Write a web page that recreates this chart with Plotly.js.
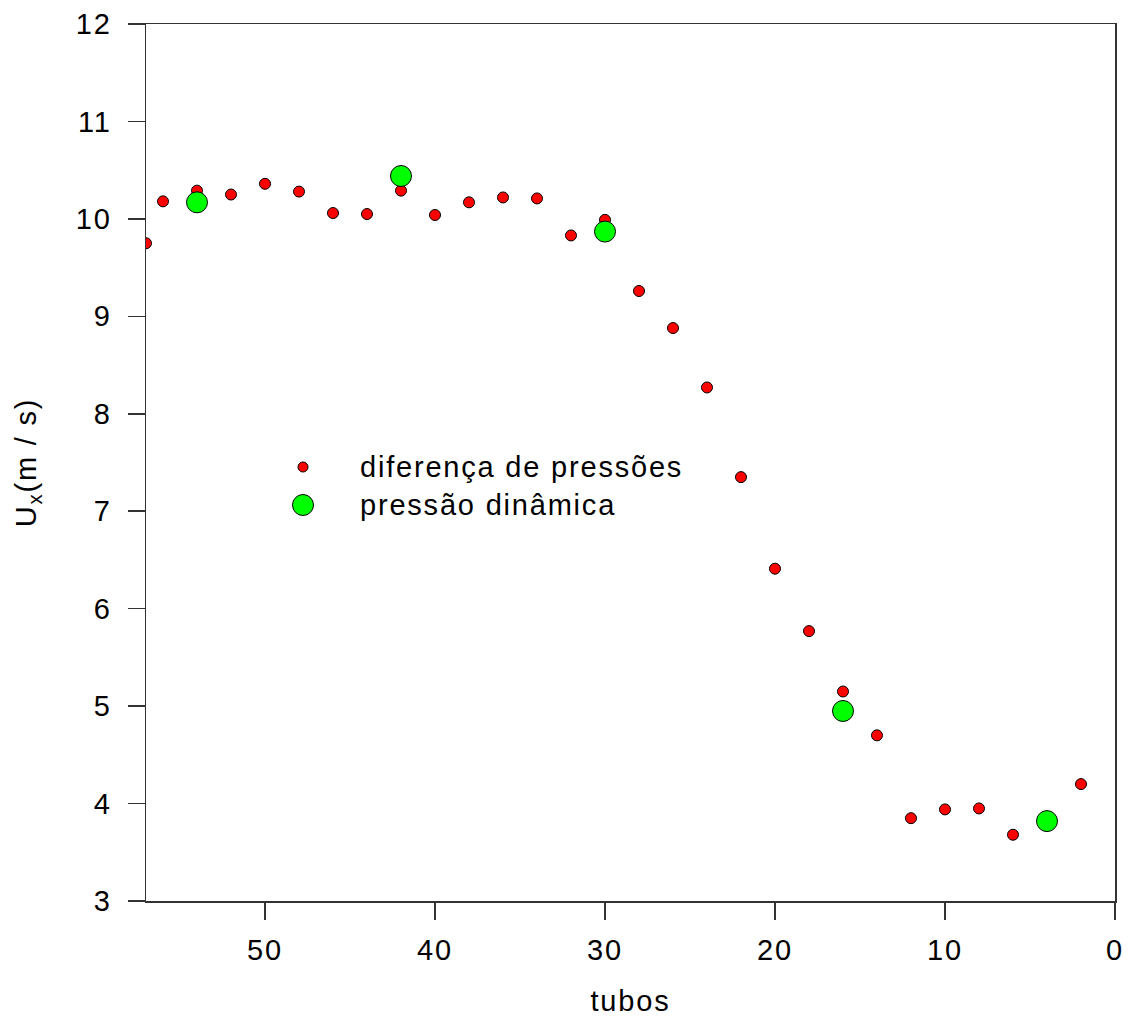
<!DOCTYPE html>
<html>
<head>
<meta charset="utf-8">
<script src="https://cdn.plot.ly/plotly-3.0.1.min.js"></script>
<style>
body{margin:0;padding:0;background:#fff;}
#chart{width:1128px;height:1017px;}
#chart svg text{letter-spacing:1.8px;}
</style>
</head>
<body>
<div id="chart"></div>
<script>
// Series: diferença de pressões
const tubosDif = [57,56,54,52,50,48,46,44,42,40,38,36,34,32,30,28,26,24,22,20,18,16,14,12,10,8,6,2];
const uxDif = [9.75,10.18,10.29,10.25,10.36,10.28,10.06,10.05,10.29,10.04,10.17,10.22,10.21,9.83,9.99,9.26,8.88,8.27,7.35,6.41,5.77,5.15,4.70,3.85,3.94,3.95,3.68,4.20];
// Series: pressão dinâmica
const tubosDin = [54,42,30,16,4];
const uxDin = [10.17,10.44,9.87,4.95,3.82];
// Legend labels
const legendLabels = ["diferença de pressões", "pressão dinâmica"];
const xTicks = [50,40,30,20,10,0];
const yTicks = [3,4,5,6,7,8,9,10,11,12];

const FONT = "Liberation Sans, Arial, sans-serif";
const FS = 29;

const traces = [
  {x: tubosDif, y: uxDif, type: 'scatter', mode: 'markers', showlegend: false,
   marker: {color: '#ff0000', size: 11, opacity: 1, line: {color: '#000', width: 1}}},
  {x: tubosDin, y: uxDin, type: 'scatter', mode: 'markers', showlegend: false,
   marker: {color: '#00ff00', size: 21, opacity: 1, line: {color: '#000', width: 1}}},
  // legend symbols on an overlay axis
  {x: [0, 0], y: [1, 0], xaxis: 'x2', yaxis: 'y2', type: 'scatter', mode: 'markers', showlegend: false,
   hoverinfo: 'skip',
   marker: {color: ['#ff0000', '#00ff00'], size: [10, 21], opacity: 1, line: {color: '#000', width: 1}}}
];

const layout = {
  width: 1128, height: 1017,
  margin: {l: 146, r: 13, t: 24, b: 116},
  paper_bgcolor: '#fff', plot_bgcolor: '#fff',
  font: {family: FONT, size: FS, color: '#000'},
  xaxis: {
    range: [57, 0], tickvals: xTicks, ticks: 'outside', ticklen: 17, tickwidth: 1.5,
    tickcolor: '#333', showline: true, linecolor: '#333', linewidth: 1.5, mirror: true,
    showgrid: false, zeroline: false, tickfont: {family: FONT, size: FS},
    ticklabelstandoff: 6,
    title: {text: 'tubos', font: {family: FONT, size: FS}, standoff: 26}
  },
  yaxis: {
    range: [3, 12], tickvals: yTicks, ticks: 'outside', ticklen: 17, tickwidth: 1.5,
    tickcolor: '#333', showline: true, linecolor: '#333', linewidth: 1.5, mirror: true,
    showgrid: false, zeroline: false, tickfont: {family: FONT, size: FS},
    ticklabelstandoff: 10,
    title: {text: 'U<sub>x</sub>(m / s)', font: {family: FONT, size: FS}, standoff: 34}
  },
  xaxis2: {overlaying: 'x', range: [0, 1], visible: false, domain: [0, 1], anchor: 'y2'},
  yaxis2: {overlaying: 'y', range: [0, 1], visible: false},
  annotations: [
    {text: legendLabels[0], xref: 'paper', yref: 'paper', x: (358-146)/969, y: (901-467)/877,
     xanchor: 'left', yanchor: 'middle', align: 'left', showarrow: false, font: {family: FONT, size: FS}},
    {text: legendLabels[1], xref: 'paper', yref: 'paper', x: (358-146)/969, y: (901-505)/877,
     xanchor: 'left', yanchor: 'middle', align: 'left', showarrow: false, font: {family: FONT, size: FS}}
  ]
};
// legend symbols: overlay axis ranges chosen so value (0,1)/(0,0) sit at the legend rows
layout.xaxis2.range = [-(303-146)/969, 1-(303-146)/969];
(function(){
  const top = 24, bot = 901, r1 = 467, r0 = 505;
  const perPx = 1 / (r0 - r1);
  layout.yaxis2.range = [0 - (bot - r0) * perPx, 1 + (r1 - top) * perPx];
})();

Plotly.newPlot('chart', traces, layout, {staticPlot: true});
</script>
</body>
</html>
